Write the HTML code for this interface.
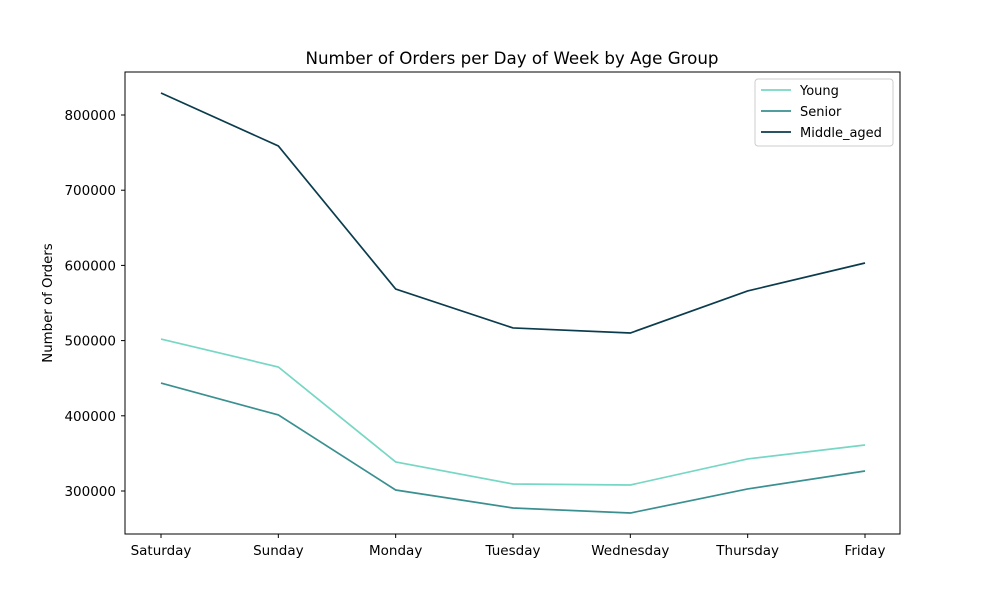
<!DOCTYPE html>
<html><head><meta charset="utf-8"><style>
body{margin:0;background:#fff;font-family:"Liberation Sans","DejaVu Sans",sans-serif}
svg text{font-family:"DejaVu Sans","Liberation Sans",sans-serif}
</style></head><body>
<svg id="c" width="1000" height="600"></svg>
<script>
const categories=["Saturday","Sunday","Monday","Tuesday","Wednesday","Thursday","Friday"];
const young=[502100,464900,338600,309300,308000,342600,361200];
const senior=[443600,401100,301300,277400,270700,302700,326600];
const middleAged=[829300,758800,568600,516800,510100,566000,603200];
const yTicks=[300000,400000,500000,600000,700000,800000];
const seriesNames=["Young","Senior","Middle_aged"];
const colors=["#76d7c4","#3a9090","#0b3c4d"];
const L=125,R=900,T=72,B=534,yMin=242800,yMax=857200;
const xs=i=>161+i*(865-161)/(categories.length-1);
const ys=v=>B-(v-yMin)/(yMax-yMin)*(B-T);
const svg=document.getElementById('c');const NS="http://www.w3.org/2000/svg";
function mk(t,a,p){const e=document.createElementNS(NS,t);for(const k in a)e.setAttribute(k,a[k]);(p||svg).appendChild(e);return e;}
const title=mk('text',{x:512,y:64,'text-anchor':'middle','font-size':16.7});title.textContent="Number of Orders per Day of Week by Age Group";


const yl=mk('text',{x:52,y:303,'text-anchor':'middle','font-size':13.3,transform:'rotate(-90 52 303)'});yl.textContent="Number of Orders";


yTicks.forEach(v=>{const y=ys(v);mk('line',{x1:L-4,x2:L,y1:y,y2:y,stroke:'#000'});
const t=mk('text',{x:L-9,y:y+5,'text-anchor':'end','font-size':13.5});t.textContent=v;

});
categories.forEach((c,i)=>{const x=xs(i);mk('line',{x1:x,x2:x,y1:B,y2:B+4,stroke:'#000'});
const t=mk('text',{x:x,y:B+21,'text-anchor':'middle','font-size':13.5});t.textContent=c;

});
[young,senior,middleAged].forEach((s,k)=>{const p=mk('polyline',{points:s.map((v,i)=>xs(i)+','+ys(v)).join(' '),fill:'none',stroke:colors[k],'stroke-width':1.7});

});
const f=mk('rect',{x:L,y:T,width:R-L,height:B-T,fill:'none',stroke:'#000','stroke-width':1});


const lg=mk('g',{});


mk('rect',{x:755,y:79,width:138,height:67,fill:'#fff',stroke:'#ccc',rx:3},lg);
seriesNames.forEach((n,k)=>{const y=90+k*21;mk('line',{x1:761,x2:791,y1:y,y2:y,stroke:colors[k],'stroke-width':1.7},lg);
const t=mk('text',{x:800,y:y+5,'font-size':13},lg);t.textContent=n;

});
</script></body></html>
